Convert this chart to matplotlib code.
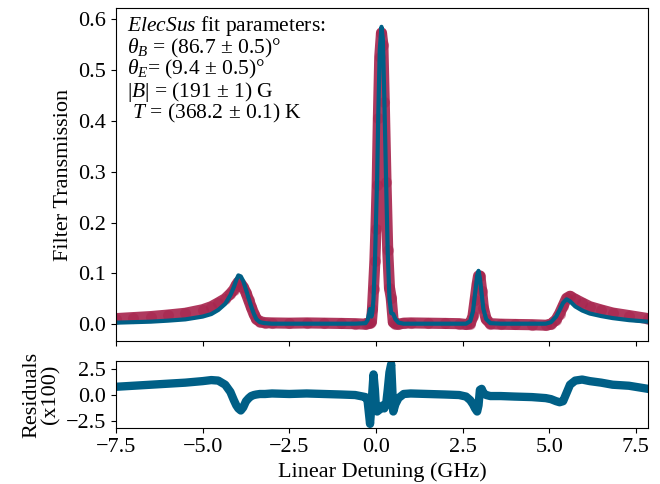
import numpy as np
import matplotlib
matplotlib.use("Agg")
import matplotlib.pyplot as plt

plt.rcParams['font.family'] = ['Liberation Serif', 'DejaVu Serif']
plt.rcParams['mathtext.fontset'] = 'custom'
plt.rcParams['mathtext.rm'] = 'Liberation Serif'
plt.rcParams['mathtext.it'] = 'Liberation Serif:italic'
plt.rcParams['font.size'] = 16

# linear detuning (GHz)
detuning = [-7.5, -7.0, -6.5, -6.0, -5.5, -5.0, -4.75, -4.55, -4.35, -4.2,
            -4.1, -4.03, -3.97, -3.9, -3.83, -3.75, -3.67, -3.6, -3.52, -3.45,
            -3.35, -3.2, -3.0, -2.5, -2.0, -1.5, -1.0, -0.6, -0.3, -0.24,
            -0.17, -0.13, -0.1, -0.07, -0.03, 0.0, 0.035, 0.07, 0.11, 0.16,
            0.2, 0.24, 0.29, 0.34, 0.39, 0.44, 0.5, 0.56, 0.65, 0.8,
            1.0, 1.5, 2.0, 2.4, 2.6, 2.72, 2.8, 2.86, 2.92, 2.96,
            3.0, 3.05, 3.1, 3.18, 3.3, 3.6, 4.0, 4.5, 4.9, 5.05,
            5.2, 5.3, 5.4, 5.5, 5.6, 5.75, 5.95, 6.17, 6.5, 6.83,
            7.3, 7.85]

# ElecSus fit
fit = [0.003, 0.004, 0.005, 0.007, 0.0095, 0.015, 0.02, 0.028, 0.04, 0.057,
       0.073, 0.087, 0.096, 0.094, 0.085, 0.068, 0.05, 0.035, 0.02, 0.01,
       0.004, 0.002, 0.001, 0.001, 0.001, 0.001, 0.001, 0.001, 0.002, 0.008,
       0.03, 0.015, 0.025, 0.05, 0.12, 0.2, 0.29, 0.42, 0.54, 0.585,
       0.56, 0.45, 0.29, 0.14, 0.05, 0.022, 0.02, 0.01, 0.003, 0.001,
       0.001, 0.001, 0.001, 0.001, 0.001, 0.006, 0.025, 0.06, 0.095, 0.105,
       0.09, 0.06, 0.03, 0.01, 0.002, 0.001, 0.001, 0.001, 0.001, 0.004,
       0.015, 0.028, 0.042, 0.049, 0.045, 0.035, 0.027, 0.021, 0.016, 0.012,
       0.008, 0.005]

# (data - fit) x 100
residuals = [0.8, 0.9, 1.0, 1.1, 1.2, 1.35, 1.45, 1.4, 1.0, 0.3,
             -0.5, -1.0, -1.3, -1.5, -1.2, -0.6, -0.3, -0.1, 0.0, 0.05,
             0.1, 0.1, 0.15, 0.1, 0.15, 0.1, 0.05, 0.0, -0.2, -0.6,
             -2.8, -1.0, 0.5, 2.0, 0.5, -1.2, -1.6, -1.5, -1.4, -1.2,
             -1.0, -1.3, -1.0, 0.5, 2.2, 3.0, -1.6, -0.9, -0.3, 0.1,
             0.15, 0.1, 0.05, 0.0, -0.15, -0.5, -0.9, -1.3, -1.6, -1.0,
             0.5, 0.6, 0.2, 0.0, -0.1, -0.1, -0.15, -0.2, -0.3, -0.4,
             -0.6, -0.7, -0.6, 0.2, 1.0, 1.4, 1.5, 1.35, 1.2, 1.0,
             0.9, 0.6]

data = np.array(fit) + np.array(residuals) / 100

params = [r'$ElecSus$ fit parameters:',
          r'$\theta_B$ = (86.7 ± 0.5)°',
          r'$\theta_E$= (9.4 ± 0.5)°',
          r'|$B$| = (191 ± 1) G',
          r' $T$ = (368.2 ± 0.1) K']

red = '#a6234c'
blue = '#005f86'

fig = plt.figure(figsize=(6.6, 4.84), dpi=100)
ax = fig.add_axes([0.1758, 0.2955, 0.806, 0.688])
axr = fig.add_axes([0.1758, 0.1157, 0.806, 0.1384], sharex=ax)

ax.plot(detuning, data, color=red, lw=8, alpha=0.9, solid_capstyle='round')
ax.plot(detuning, data, 'o', color=red, ms=8, mew=0, alpha=0.5)
ax.plot(detuning, fit, color=blue, lw=3)

ax.set_xlim(-7.5, 7.85)
ax.set_ylim(-0.033, 0.622)
ax.set_yticks([0.0, 0.1, 0.2, 0.3, 0.4, 0.5, 0.6])
ax.set_ylabel('Filter Transmission')
ax.tick_params(labelbottom=False)

ax.text(0.021, 0.982, '\n'.join(params), transform=ax.transAxes,
        ha='left', va='top', fontsize=15.5, linespacing=0.91)

axr.plot(detuning, residuals, color=blue, lw=6)
axr.set_ylim(-3.2, 3.3)
axr.set_yticks([-2.5, 0.0, 2.5])
axr.set_xticks([-7.5, -5.0, -2.5, 0.0, 2.5, 5.0, 7.5])
axr.set_ylabel('Residuals\n(x100)', linespacing=1.0)
axr.set_xlabel('Linear Detuning (GHz)')

fig.savefig('out.png', dpi=100)
